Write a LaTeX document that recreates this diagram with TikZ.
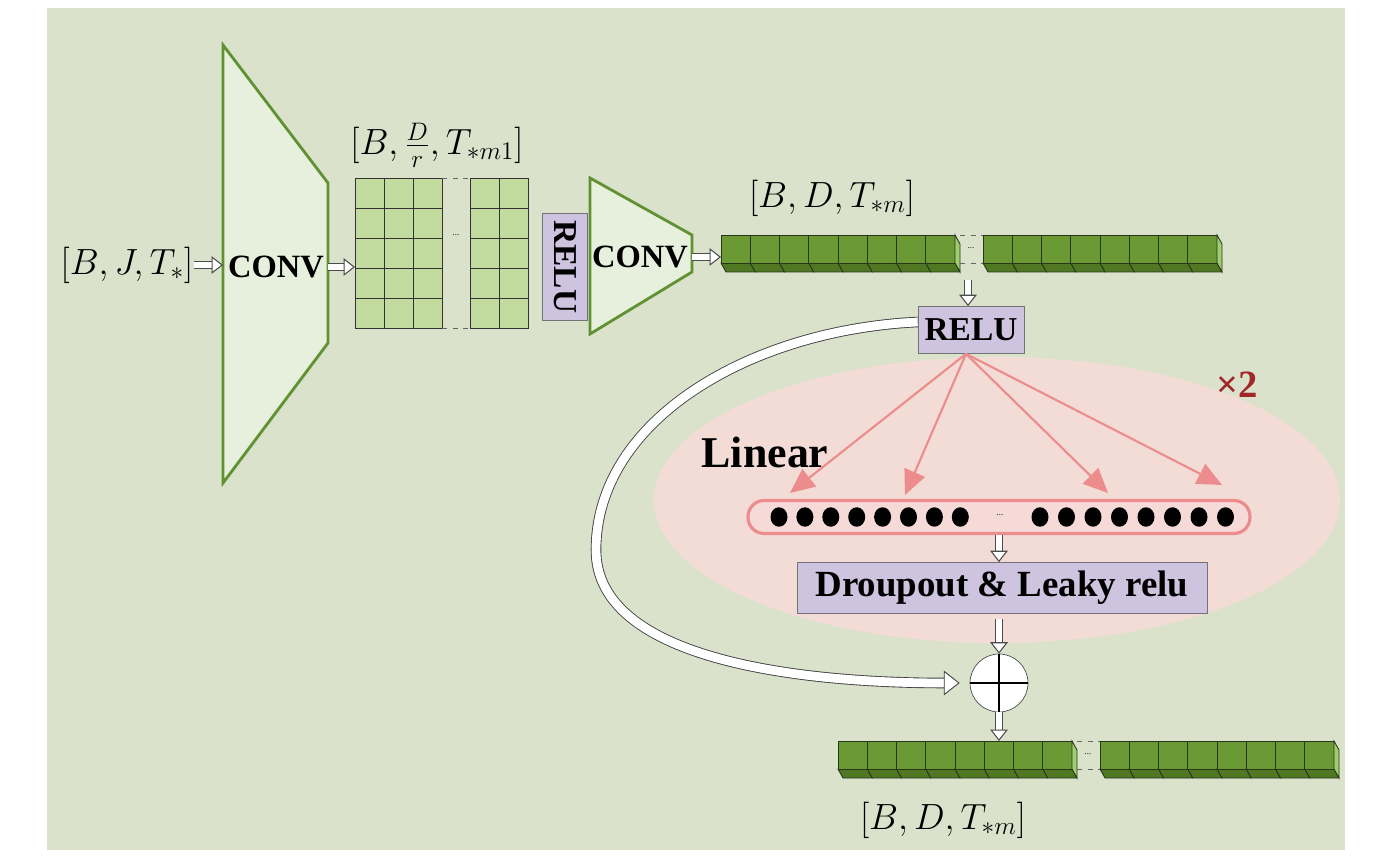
\documentclass[tikz,border=0pt]{standalone}
\usepackage[no-math]{fontspec}
\setmainfont{Liberation Serif}
\usetikzlibrary{arrows.meta}
\definecolor{bggreen}{RGB}{219,226,204}
\definecolor{convfill}{RGB}{231,240,220}
\definecolor{convline}{RGB}{96,145,50}
\definecolor{cellfill}{RGB}{193,220,158}
\definecolor{cubefront}{RGB}{107,153,52}
\definecolor{cubebot}{RGB}{80,120,35}
\definecolor{cubeside}{RGB}{160,205,110}
\definecolor{cubeline}{RGB}{40,55,28}
\definecolor{relufill}{RGB}{207,196,224}
\definecolor{ellpink}{RGB}{242,220,213}
\definecolor{pinkline}{RGB}{236,140,140}
\definecolor{pillfill}{RGB}{246,218,215}
\definecolor{redtxt}{RGB}{160,40,40}

\newcommand{\cubebar}[2]{%
  \foreach \k in {0,...,7}{%
    \draw[cubeline,fill=cubebot,line width=0.5pt] ({#1+29.25*\k},{#2+28}) -- ++(29.25,0) -- ++(5,9) -- ++(-29.25,0) -- cycle;
    \draw[cubeline,fill=cubefront,line width=0.5pt] ({#1+29.25*\k},#2) rectangle ++(29.25,28);
  }%
  \draw[cubeline,fill=cubeside,line width=0.5pt] ({#1+234},#2) -- ++(5,9) -- ++(0,28) -- ++(-5,-9) -- cycle;
}

\begin{document}
\begin{tikzpicture}[x=0.02cm,y=-0.02cm,
    conv/.style={draw=convline,line width=1.6pt,fill=convfill},
    convtext/.style={font=\fontsize{18.5}{19}\selectfont\bfseries},
    lbl/.style={inner sep=0pt,font=\fontsize{21}{24}\selectfont},
    relubox/.style={draw=black!55,fill=relufill,inner sep=0pt,font=\fontsize{19}{19}\selectfont\bfseries},
    fatarrow/.style={draw=black!70,line width=0.6pt,double=white,double distance=3pt,-{Triangle[open,fill=white,length=6.5pt,width=10pt]}},
    bigarrow/.style={draw=black!75,line width=0.5pt,double=white,double distance=5pt,-{Triangle[open,fill=white,length=9pt,width=14pt]}},
    pinkarrow/.style={draw=pinkline,line width=1.2pt,-{Triangle[length=14pt,width=12.5pt]}},
    cell/.style={draw=black!80,line width=0.5pt,fill=cellfill}]

\fill[white] (0,0) rectangle (1376,864);
\fill[bggreen] (47,8) rectangle (1345,850);
\useasboundingbox (0,0) rectangle (1376,864);

\fill[ellpink] (997,500) ellipse [x radius=6.86cm, y radius=2.86cm];

\coordinate (c1nw) at (223,45);
\coordinate (c1ne) at (328,183);
\coordinate (c1se) at (328,343);
\coordinate (c1sw) at (223,483);
\draw[conv] (c1nw) -- (c1ne) -- (c1se) -- (c1sw) -- cycle;
\node[convtext] (conv1) at (276,267) {CONV};

\node[lbl] (inp) at (127,265) {$[B,J,T_*]$};
\draw[fatarrow] (inp.east) -- (inp.east -| c1nw);

\foreach \c in {0,1,2}{\foreach \r in {0,...,4}{\draw[cell] ({355+29*\c},{178+30*\r}) rectangle ++(29,30);}}
\foreach \c in {0,1}{\foreach \r in {0,...,4}{\draw[cell] ({470+29*\c},{178+30*\r}) rectangle ++(29,30);}}
\draw[dashed,black!60] (442,178) -- (470,178) (442,328) -- (470,328);
\node[font=\tiny] (gdots) at (456,235) {...};
\coordinate (gridw) at (355,267);
\node[lbl] (glbl) at (437,145) {$[B,\frac{D}{r},T_{*m1}]$};
\draw[fatarrow] (conv1.east -| c1ne) -- (gridw);

\node[relubox,rotate=-90,minimum width=2.14cm,minimum height=0.9cm] (relu1) at (565,267) {RELU};

\coordinate (c2nw) at (590,178);
\coordinate (c2ne) at (692,235);
\coordinate (c2se) at (692,272);
\coordinate (c2sw) at (590,334);
\draw[conv] (c2nw) -- (c2ne) -- (c2se) -- (c2sw) -- cycle;
\node[convtext] (conv2) at (640,257) {CONV};

\cubebar{721}{235}
\cubebar{983}{235}
\draw[dashed,black!60] (960,235) -- (983,235) (960,263) -- (983,263);
\node[font=\tiny] (b1dots) at (971,248) {...};
\coordinate (bar1w) at (721,257);
\draw[fatarrow] (bar1w -| c2ne) -- (bar1w);
\node[lbl] (b1lbl) at (832,198) {$[B,D,T_{*m}]$};

\node[relubox,minimum width=2.12cm,minimum height=0.94cm] (relu2) at (971,330) {RELU};
\coordinate (bar1s) at (968,280);
\draw[fatarrow] (bar1s) -- (bar1s |- relu2.north);

\node[font=\fontsize{22}{22}\selectfont\bfseries,text=redtxt] (times) at (1237,385) {×2};
\node[font=\fontsize{25}{25}\selectfont\bfseries] (lin) at (765,452) {Linear};

\node[draw=pinkline,line width=1.8pt,fill=pillfill,rounded corners=0.32cm,minimum width=10.04cm,minimum height=0.66cm] (pill) at (999,517) {};
\foreach \i in {0,...,7}{\fill ({779+25.9*\i},517) ellipse [x radius=0.17cm, y radius=0.195cm];}
\foreach \i in {0,...,7}{\fill ({1040+26.5*\i},517) ellipse [x radius=0.17cm, y radius=0.195cm];}
\node[font=\tiny] (pdots) at (1000,515) {...};

\coordinate (t1) at (790,493);
\coordinate (t2) at (905,495);
\coordinate (t3) at (1108,493);
\coordinate (t4) at (1222,485);
\foreach \t in {t1,t2,t3,t4}{\draw[pinkarrow] ([xshift=-0.1cm]relu2.south) -- (\t);}

\node[relubox,minimum width=8.2cm,minimum height=1.02cm,font=\fontsize{21}{21}\selectfont\bfseries] (drop) at (1002,588) {Droupout \& Leaky relu};
\draw[fatarrow] (pill.south) -- (pill.south |- drop.north);

\node[circle,draw=black!70,fill=white,minimum size=1.16cm,inner sep=0pt] (plus) at (999,683) {};
\draw[line width=1.1pt] (plus.north) -- (plus.south) (plus.west) -- (plus.east);
\draw[fatarrow,shorten <=0.1cm] (drop.south -| plus) -- (plus.north);

\cubebar{838}{741}
\cubebar{1100}{741}
\draw[dashed,black!60] (1077,741) -- (1100,741) (1077,769) -- (1100,769);
\node[font=\tiny] (b2dots) at (1088,754) {...};
\coordinate (bar2n) at (999,741);
\draw[fatarrow] (plus.south) -- (bar2n);
\node[lbl] (b2lbl) at (943,820) {$[B,D,T_{*m}]$};

\draw[bigarrow,shorten >=0.2cm] ([yshift=0.16cm]relu2.west) .. controls (750,330) and (596,420) .. (596,550) .. controls (596,660) and (800,683) .. (plus.west);
\end{tikzpicture}
\end{document}
